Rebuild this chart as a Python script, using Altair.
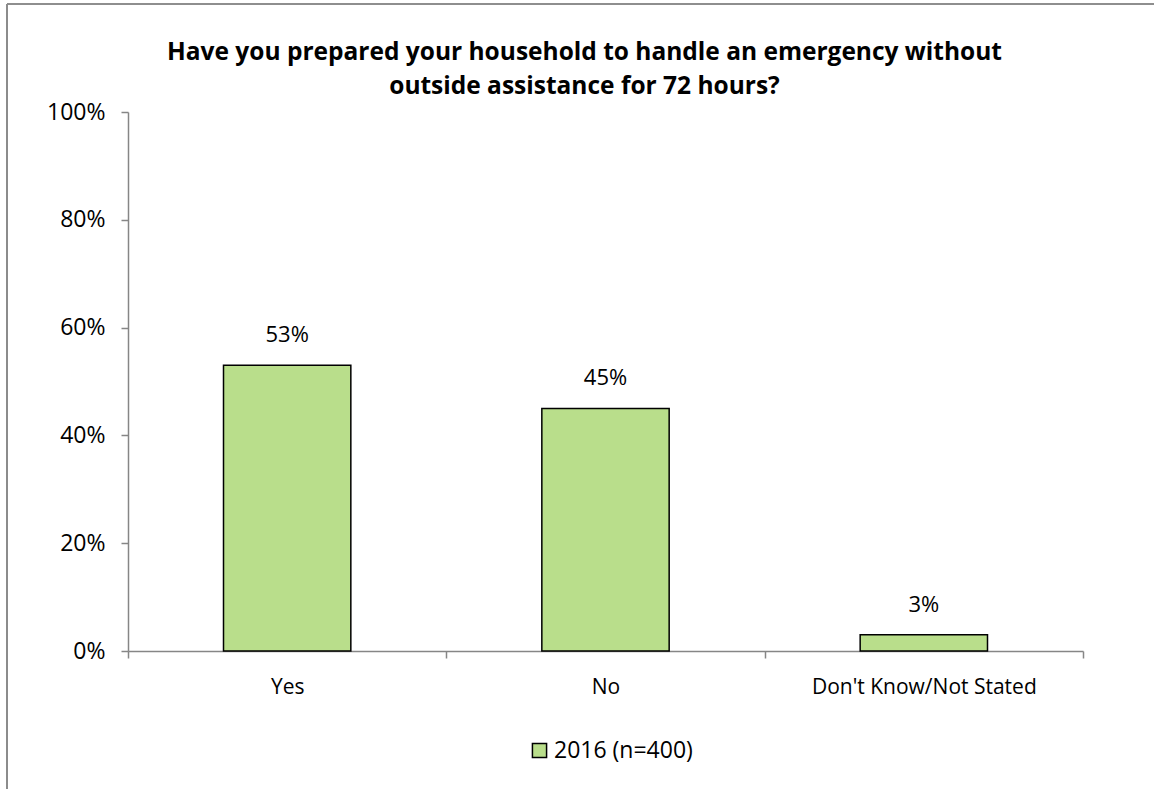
import altair as alt
import pandas as pd

categories = ["Yes", "No", "Don't Know/Not Stated"]
values = [0.53, 0.45, 0.03]
series_name = "2016 (n=400)"
title_lines = ["Have you prepared your household to handle an emergency without",
               "outside assistance for 72 hours?"]

df = pd.DataFrame({"cat": categories, "val": values, "series": [series_name] * 3})

FONT = "Open Sans"
W, H = 955, 539
PL, PT = 128, 112

x_enc = alt.X("cat:N", sort=categories, title=None,
              scale=alt.Scale(paddingInner=0, paddingOuter=0),
              axis=alt.Axis(labelAngle=0, labelFontSize=21, labelFont=FONT, labelColor="#000000",
                            labelPadding=18, labelLimit=0, domainColor="#868686", domainWidth=1.5,
                            tickColor="#868686", tickWidth=1.5, tickSize=7, tickBand="extent"))
y_enc = alt.Y("val:Q", title=None,
              scale=alt.Scale(domain=[0, 1]),
              axis=alt.Axis(format=".0%", values=[0, 0.2, 0.4, 0.6, 0.8, 1.0], labelFontSize=23,
                            labelFont=FONT, labelColor="#000000", labelPadding=16,
                            domainColor="#868686", domainWidth=1.5, tickColor="#868686",
                            tickWidth=1.5, tickSize=7, grid=False))

bars = alt.Chart(df).mark_bar(stroke="#000000", strokeWidth=1.5,
                              width=alt.RelativeBandSize(0.4)).encode(
    x=x_enc, y=y_enc,
    color=alt.Color("series:N", scale=alt.Scale(range=["#B9DE8B"]),
                    legend=alt.Legend(title=None, orient="none", legendX=400, legendY=627,
                                      symbolType="square", symbolSize=200,
                                      symbolStrokeColor="#000000", symbolStrokeWidth=1.5,
                                      labelFontSize=23, labelFont=FONT, labelColor="#000000",
                                      labelOffset=3)),
)

labels = alt.Chart(df).mark_text(baseline="bottom", dy=-18, fontSize=22, font=FONT,
                                 color="#000000").encode(
    x=alt.X("cat:N", sort=categories), y="val:Q",
    text=alt.Text("val:Q", format=".0%"),
)

border_left = alt.Chart(df).mark_rule(color="#8c8c8c", strokeWidth=2).encode(
    x=alt.value(7 - PL), y=alt.value(4 - PT), y2=alt.value(789 - PT))
border_top = alt.Chart(df).mark_rule(color="#8c8c8c", strokeWidth=1.5).encode(
    x=alt.value(7 - PL), x2=alt.value(1154 - PL), y=alt.value(4 - PT))

chart = alt.layer(bars, labels, border_left, border_top).properties(
    width=W, height=H,
    padding={"left": PL, "top": PT, "right": 1154 - PL - W, "bottom": 789 - PT - H},
    autosize=alt.AutoSizeParams(type="none"),
    title=alt.TitleParams(title_lines, anchor="middle", frame="group", dx=-21, offset=-96,
                          fontSize=24.5, font=FONT, fontWeight="bold", color="#000000",
                          lineHeight=34),
).configure_view(stroke=None)

chart.save("out.html", embed_options={"renderer": "svg", "actions": False})
